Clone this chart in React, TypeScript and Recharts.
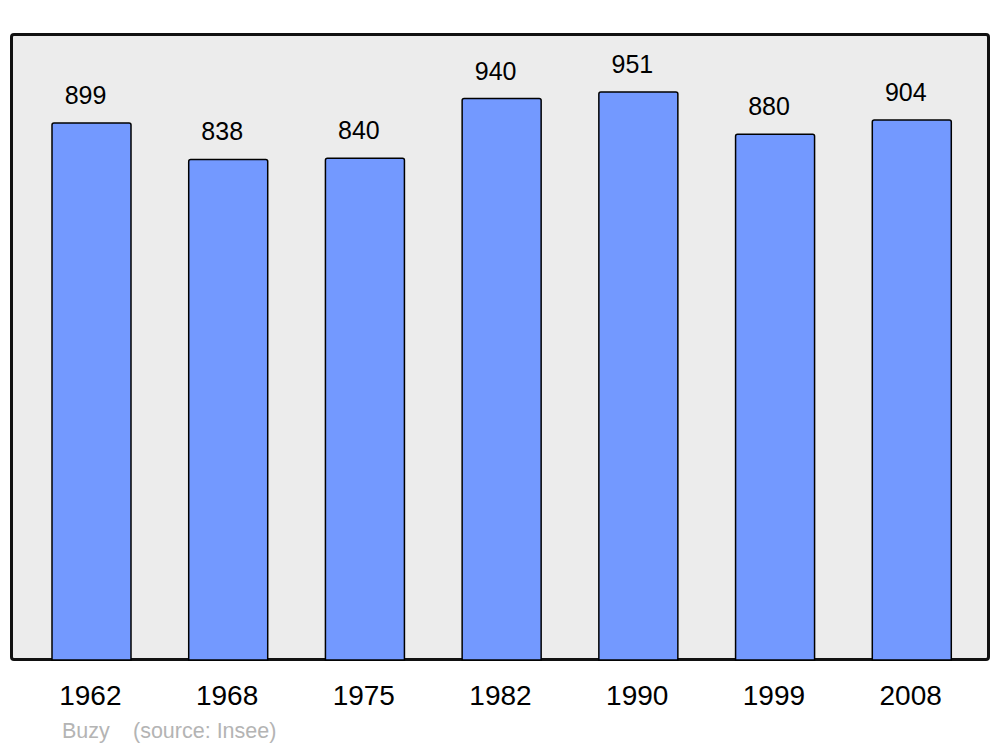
import React from "react"
import { BarChart, Bar, XAxis, YAxis, LabelList } from "recharts"

const years = ["1962", "1968", "1975", "1982", "1990", "1999", "2008"]
const population = [899, 838, 840, 940, 951, 880, 904]
const commune = "Buzy"
const source = "(source: Insee)"

const data = years.map((year, i) => ({ year, population: population[i] }))

const font = "'Liberation Sans', Arial, sans-serif"

export default function App() {
  return (
    <div
      style={{
        position: "absolute",
        top: 0,
        left: 0,
        width: 1000,
        height: 747,
        background: "#ffffff",
        fontFamily: font,
      }}
    >
      <div
        style={{
          position: "absolute",
          left: 10,
          top: 33,
          width: 980,
          height: 628,
          boxSizing: "border-box",
          background: "#ececec",
          border: "3px solid #111",
          borderRadius: 4,
        }}
      />
      <div style={{ position: "absolute", left: 0, top: 0 }}>
        <BarChart
          width={1000}
          height={747}
          data={data}
          margin={{ top: 34, right: 20, bottom: 0, left: 23 }}
          barSize={79}
        >
          <XAxis
            dataKey="year"
            axisLine={false}
            tickLine={false}
            height={87}
            tickMargin={19}
            tick={{ fill: "#000", fontSize: 28, fontFamily: font, dx: -1 }}
          />
          <YAxis hide domain={[0, 1048]} />
          <Bar
            dataKey="population"
            fill="#7399ff"
            stroke="#000"
            strokeWidth={1.5}
            radius={[2, 2, 0, 0]}
            isAnimationActive={false}
          >
            <LabelList
              dataKey="population"
              position="top"
              offset={19}
              dx={-6}
              fill="#000"
              fontSize={25}
              fontFamily={font}
            />
          </Bar>
        </BarChart>
      </div>
      <svg
        width={1000}
        height={747}
        style={{ position: "absolute", left: 0, top: 0, pointerEvents: "none" }}
      >
        <text x={62} y={738} fontSize={21.5} fill="#b4b4b4" fontFamily={font}>
          {commune}
        </text>
        <text x={133} y={738} fontSize={21.5} fill="#b4b4b4" fontFamily={font}>
          {source}
        </text>
      </svg>
    </div>
  )
}
